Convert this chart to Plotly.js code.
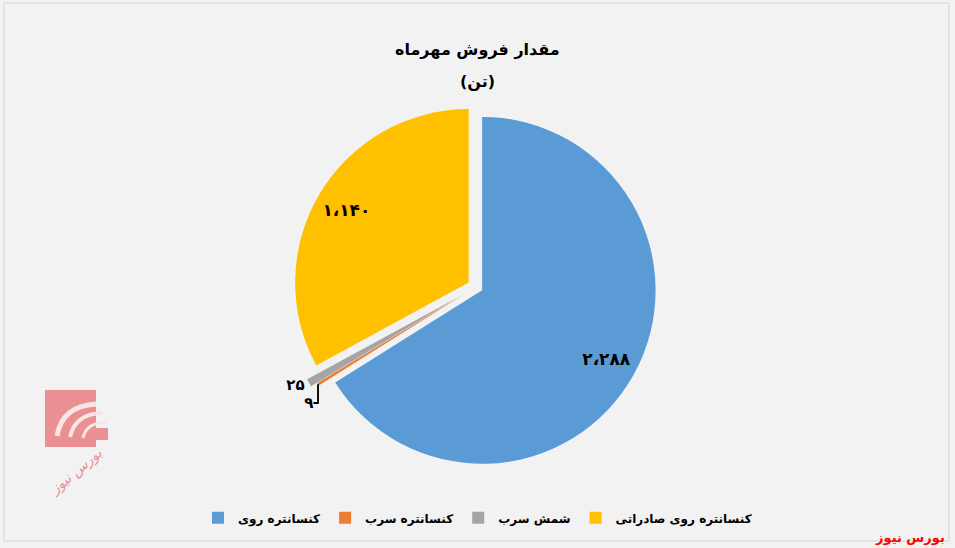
<!DOCTYPE html>
<html>
<head>
<meta charset="utf-8">
<script src="https://cdn.plot.ly/plotly-3.0.1.min.js"></script>
<style>html,body{margin:0;padding:0;background:#f2f2f2;}#chart{width:955px;height:548px;}</style>
</head>
<body>
<div id="chart"></div>
<script>
// Data
const categories = ['کنسانتره روی', 'کنسانتره سرب', 'شمش سرب', 'کنسانتره روی صادراتی'];
const values = [2288, 9, 25, 1140];
const colors = ['#5b9bd5', '#ed7d31', '#a5a5a5', '#ffc000'];
const pulls = [0.04, 0.07, 0.11, 0.05];
const insideLabel = [true, false, false, true];
const titleLines = ['مقدار فروش مهرماه', '(تن)'];
const sourceText = 'بورس نیوز';

function toFa(n) {
  const d = '۰۱۲۳۴۵۶۷۸۹';
  const s = String(n).replace(/\B(?=(\d{3})+(?!\d))/g, '،');
  return s.replace(/\d/g, c => d[+c]);
}
const labelsText = values.map(toFa);

const FONT = 'DejaVu Sans';
const DOMAIN = { x: [0.2, 0.797], y: [0.125, 0.8276] };

// main pie: slices + outside labels for the small slices
const trace = {
  type: 'pie',
  labels: categories,
  values: values,
  text: labelsText.map((t, i) => insideLabel[i] ? '' : t),
  textinfo: 'text',
  hoverinfo: 'label+value',
  sort: false,
  direction: 'clockwise',
  rotation: 0,
  pull: pulls,
  marker: { colors: colors, line: { width: 0 } },
  textposition: 'outside',
  outsidetextfont: { family: FONT, size: 15, color: '#000000', weight: 'bold' },
  domain: DOMAIN
};

// transparent ring overlay carrying the big-slice labels near the rim
const labelRing = {
  type: 'pie',
  labels: categories,
  values: values,
  text: labelsText.map((t, i) => insideLabel[i] ? t : ''),
  textinfo: 'text',
  hoverinfo: 'skip',
  sort: false,
  direction: 'clockwise',
  rotation: 0,
  pull: pulls,
  hole: 0.64,
  showlegend: false,
  marker: { colors: values.map(() => 'rgba(0,0,0,0)'), line: { width: 0 } },
  textposition: 'inside',
  insidetextorientation: 'horizontal',
  textfont: { family: FONT, size: 17, color: '#000000', weight: 'bold' },
  domain: DOMAIN
};

const px = v => v / 955, py = v => 1 - v / 548;

const layout = {
  width: 955, height: 548,
  margin: { l: 0, r: 0, t: 0, b: 0 },
  paper_bgcolor: '#f2f2f2',
  showlegend: true,
  legend: {
    orientation: 'h', x: 0.5, xanchor: 'center', y: 0.055, yanchor: 'middle',
    font: { family: FONT, size: 12, color: '#000000', weight: 'bold' },
    itemwidth: 30, traceorder: 'normal'
  },
  annotations: [
    { text: titleLines[0], x: 0.5, y: py(38), xref: 'paper', yref: 'paper',
      showarrow: false, font: { family: FONT, size: 16, color: '#000', weight: 'bold' } },
    { text: titleLines[1], x: 0.5, y: py(70), xref: 'paper', yref: 'paper',
      showarrow: false, font: { family: FONT, size: 16, color: '#000', weight: 'bold' } },
    { text: sourceText, x: px(947), y: py(537), xref: 'paper', yref: 'paper',
      xanchor: 'right', yanchor: 'middle', showarrow: false,
      font: { family: FONT, size: 13, color: '#ff0000', weight: 'bold' } },
    { text: '<i>' + sourceText + '</i>', x: px(76), y: py(472), xref: 'paper', yref: 'paper',
      xanchor: 'center', yanchor: 'middle',
      showarrow: false, textangle: -40, font: { family: FONT, size: 14, color: '#ea8f92' } }
  ],
  shapes: [
    { type: 'rect', xref: 'paper', yref: 'paper', x0: px(4), x1: px(949), y0: py(541), y1: py(3),
      line: { color: '#d4d4d4', width: 1 }, fillcolor: 'rgba(0,0,0,0)' },
    { type: 'rect', xref: 'paper', yref: 'paper', x0: px(45), x1: px(96), y0: py(447), y1: py(390),
      line: { width: 0 }, fillcolor: '#ea8f92' },
    { type: 'path', xref: 'paper', yref: 'paper',
      path: `M ${px(96)},${py(404)} Q ${px(62)},${py(406)} ${px(57)},${py(436)}`,
      line: { color: '#fbe4e4', width: 5 } },
    { type: 'path', xref: 'paper', yref: 'paper',
      path: `M ${px(102)},${py(413)} Q ${px(75)},${py(414)} ${px(70)},${py(437)}`,
      line: { color: '#fbe4e4', width: 4 } },
    { type: 'path', xref: 'paper', yref: 'paper',
      path: `M ${px(106)},${py(422)} Q ${px(86)},${py(423)} ${px(83)},${py(438)}`,
      line: { color: '#fbe4e4', width: 3 } },
    { type: 'path', xref: 'paper', yref: 'paper',
      path: `M ${px(96)},${py(428)} L ${px(108)},${py(428)} L ${px(108)},${py(440)} L ${px(96)},${py(440)} Z`,
      line: { width: 0 }, fillcolor: '#ea8f92' }
  ]
};

Plotly.newPlot('chart', [trace, labelRing], layout, { displayModeBar: false, staticPlot: true });
</script>
</body>
</html>
